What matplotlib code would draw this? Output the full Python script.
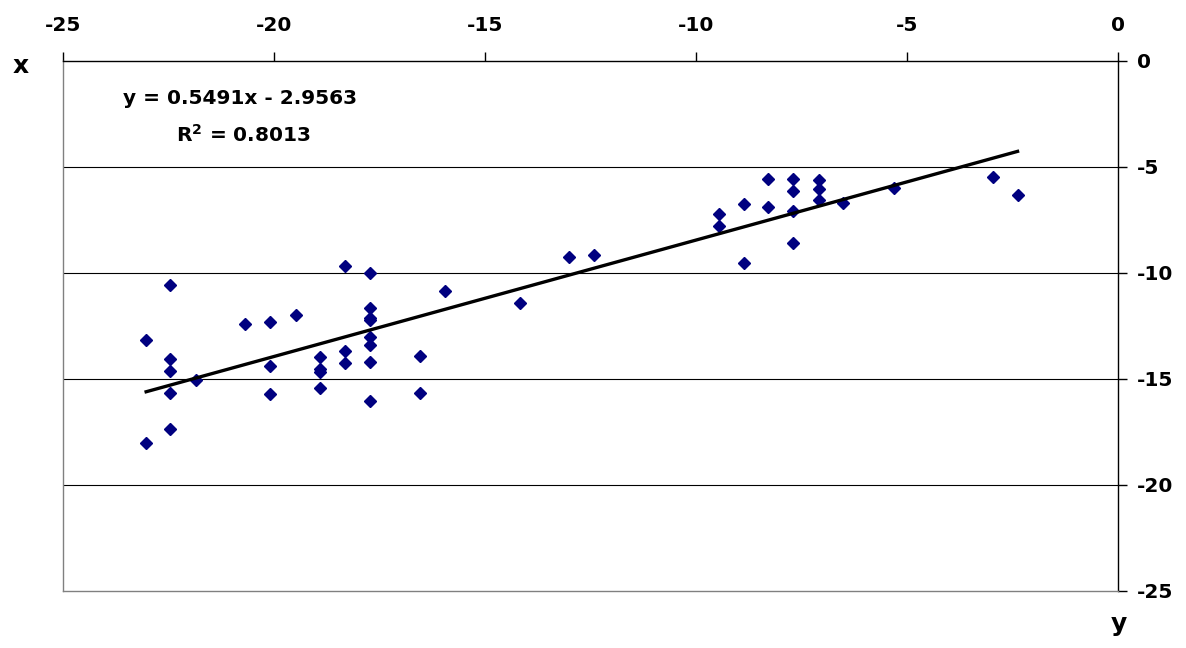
import matplotlib
matplotlib.use("Agg")
import matplotlib.pyplot as plt
import numpy as np

# paired measurements (y on the horizontal axis, x on the vertical one)
y_obs = [-23.03, -23.03, -22.46, -22.46, -22.46, -22.46, -22.46, -21.86,
         -20.69, -20.09, -20.09, -20.09, -19.49,
         -18.92, -18.92, -18.92, -18.92, -18.32, -18.32, -18.32,
         -17.72, -17.72, -17.72, -17.72, -17.72, -17.72, -17.72, -17.72,
         -16.54, -16.54, -15.95, -14.18, -13.00, -12.41,
         -9.45, -9.45, -8.86, -8.86, -8.29, -8.29,
         -7.69, -7.69, -7.69, -7.69, -7.09, -7.09, -7.09,
         -6.51, -5.31, -2.97, -2.38]
x_obs = [-13.16, -18.03, -10.57, -14.07, -14.62, -15.68, -17.37, -15.05,
         -12.42, -12.31, -14.39, -15.71, -12.00,
         -13.98, -14.54, -14.65, -15.41, -9.67, -13.68, -14.26,
         -9.98, -11.64, -12.14, -12.22, -13.00, -13.40, -14.18, -16.05,
         -13.90, -15.66, -10.83, -11.40, -9.25, -9.13,
         -7.23, -7.78, -6.76, -9.51, -5.57, -6.89,
         -5.57, -6.13, -7.06, -8.58, -5.63, -6.05, -6.56,
         -6.71, -5.97, -5.45, -6.34]

slope = 0.5491
intercept = -2.9563
r_squared = 0.8013

xticks = [-25, -20, -15, -10, -5, 0]
yticks = [0, -5, -10, -15, -20, -25]

plt.rcParams["font.family"] = "DejaVu Sans"
plt.rcParams["font.weight"] = "bold"

fig = plt.figure(figsize=(11.86, 6.48), dpi=100)
ax = fig.add_axes([63 / 1186, 1 - 591 / 648, (1118 - 63) / 1186, (591 - 61) / 648])

ax.set_xlim(-25, 0)
ax.set_ylim(-25, 0)

# horizontal gridlines
for g in yticks[1:-1]:
    ax.axhline(g, color="black", lw=0.8, zorder=1)

ax.plot(y_obs, x_obs, linestyle="none", marker="D", ms=5.8,
        color="#000080", mec="#000080", zorder=3)

line_x = np.array([min(y_obs), max(y_obs)])
ax.plot(line_x, slope * line_x + intercept, color="black", lw=2.4, zorder=4)

# axes cross at the top (x) and the right (y)
ax.xaxis.tick_top()
ax.yaxis.tick_right()
ax.set_xticks(xticks)
ax.set_yticks(yticks)
ax.set_xticklabels([str(t) for t in xticks], fontsize=14.5, fontweight="bold")
ax.set_yticklabels([str(t) for t in yticks], fontsize=14.5, fontweight="bold")
ax.tick_params(axis="x", direction="out", length=6.5, width=1, pad=12, top=True, bottom=False)
ax.tick_params(axis="y", direction="out", length=6.5, width=1, pad=7, right=True, left=False)

ax.spines["top"].set_color("black")
ax.spines["right"].set_color("black")
ax.spines["left"].set_color("#808080")
ax.spines["bottom"].set_color("#808080")
for s in ax.spines.values():
    s.set_linewidth(1)

ax.text(240 / 1186, 1 - 99 / 648, f"y = {slope:.4f}x - {abs(intercept):.4f}",
        transform=fig.transFigure, ha="center", va="center", fontsize=14.5, fontweight="bold")
ax.text(243 / 1186, 1 - 135 / 648, f"R$^2$ = {r_squared:.4f}",
        transform=fig.transFigure, ha="center", va="center", fontsize=14.5, fontweight="bold")

fig.text(21 / 1186, 1 - 66 / 648, "x", ha="center", va="center", fontsize=18, fontweight="bold")
fig.text(1119 / 1186, 1 - 624 / 648, "y", ha="center", va="center", fontsize=18, fontweight="bold")

fig.savefig("out.png", dpi=100)
